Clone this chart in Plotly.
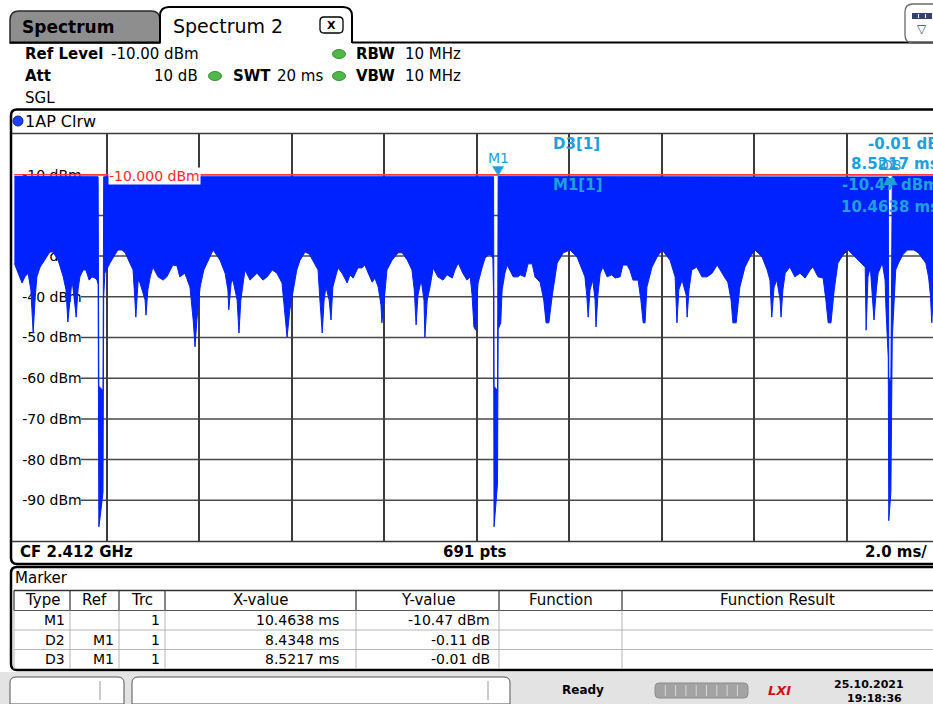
import plotly.graph_objects as go

# ---------------------------------------------------------------- data
# Sweep time (ms) and lower envelope of the zero-span trace (dBm)
t_floor = [0.00, 0.08, 0.17, 0.23, 0.30, 0.36, 0.41, 0.45, 0.49, 0.56, 0.67, 0.77, 0.84, 0.95,
           1.06, 1.12, 1.16, 1.21, 1.25, 1.29, 1.34, 1.38, 1.42, 1.49, 1.55, 1.62, 1.68, 1.75,
           1.79, 1.815, 1.83, 1.86, 1.89, 1.92, 1.935, 1.96, 2.07, 2.14, 2.24, 2.33, 2.40, 2.50,
           2.57, 2.61, 2.63, 2.68, 2.72, 2.83, 2.85, 2.89, 2.94, 3.00, 3.11, 3.22, 3.30, 3.43,
           3.52, 3.58, 3.69, 3.80, 3.87, 3.91, 3.95, 4.02, 4.10, 4.17, 4.30, 4.45, 4.56, 4.62,
           4.64, 4.69, 4.73, 4.82, 4.86, 4.90, 4.99, 5.10, 5.25, 5.38, 5.47, 5.58, 5.68, 5.79,
           5.85, 5.90, 5.96, 6.03, 6.11, 6.18, 6.29, 6.38, 6.46, 6.57, 6.61, 6.66, 6.70, 6.74,
           6.81, 6.85, 6.89, 7.00, 7.09, 7.20, 7.26, 7.33, 7.43, 7.52, 7.58, 7.65, 7.74, 7.80,
           7.87, 7.93, 7.95, 8.00, 8.06, 8.17, 8.30, 8.39, 8.50, 8.60, 8.65, 8.69, 8.73, 8.80,
           8.86, 8.88, 8.93, 8.99, 9.06, 9.16, 9.27, 9.36, 9.47, 9.53, 9.60, 9.70, 9.79, 9.86,
           9.90, 9.94, 9.98, 10.01, 10.03, 10.12, 10.18, 10.25, 10.31, 10.35, 10.365, 10.375,
           10.40, 10.43, 10.45, 10.4638, 10.52, 10.55, 10.61, 10.66, 10.72, 10.79, 10.89, 10.94,
           11.04, 11.11, 11.20, 11.26, 11.37, 11.45, 11.50, 11.56, 11.63, 11.74, 11.87, 12.02,
           12.17, 12.28, 12.34, 12.38, 12.41, 12.45, 12.51, 12.56, 12.58, 12.62, 12.67, 12.73,
           12.82, 12.92, 12.99, 13.10, 13.16, 13.25, 13.31, 13.38, 13.49, 13.55, 13.60, 13.64,
           13.68, 13.79, 13.90, 14.01, 14.18, 14.29, 14.31, 14.33, 14.37, 14.44, 14.53, 14.55,
           14.59, 14.65, 14.76, 14.87, 14.98, 15.09, 15.20, 15.26, 15.37, 15.43, 15.50, 15.54,
           15.61, 15.69, 15.80, 15.91, 16.02, 16.17, 16.28, 16.34, 16.38, 16.43, 16.49, 16.56,
           16.58, 16.62, 16.67, 16.77, 16.88, 16.99, 17.10, 17.21, 17.27, 17.38, 17.49, 17.55,
           17.60, 17.66, 17.73, 17.81, 17.92, 18.03, 18.18, 18.29, 18.40, 18.42, 18.46, 18.51,
           18.55, 18.59, 18.64, 18.68, 18.77, 18.83, 18.85, 18.8986, 18.91, 18.93, 18.955,
           18.9855, 19.06, 19.12, 19.21, 19.31, 19.45, 19.55, 19.71, 19.77, 19.81, 19.84, 19.88,
           19.96, 20.00]
floor_dbm = [-31.7, -34.2, -36.6, -35.1, -34.2, -38.3, -48.9, -40.8, -35.1, -32.7, -30.7, -29.0,
             -29.0, -31.0, -35.1, -38.3, -46.2, -40.8, -35.9, -39.6, -45.0, -38.3, -35.1, -33.4,
             -33.4, -35.9, -35.1, -35.4, -35.9, -37.0, -96.5, -94.0, -90.0, -88.0, -40.0, -34.2,
             -31.7, -30.5, -28.5, -28.5, -29.2, -31.7, -33.4, -40.8, -45.0, -35.9, -36.6, -40.8,
             -44.5, -38.3, -35.1, -32.7, -35.1, -35.9, -35.1, -32.2, -32.4, -35.1, -34.2, -37.6,
             -45.7, -52.3, -45.7, -37.6, -33.4, -31.7, -28.5, -31.0, -34.2, -38.3, -43.2, -36.6,
             -35.9, -40.8, -48.9, -40.8, -33.4, -35.9, -34.2, -35.9, -35.1, -33.4, -34.2, -36.6,
             -43.2, -49.9, -43.2, -38.3, -33.4, -31.0, -29.0, -29.5, -31.0, -33.4, -40.8, -48.9,
             -40.8, -37.6, -40.8, -45.7, -37.6, -32.9, -34.2, -36.6, -34.6, -35.4, -32.9, -32.9,
             -32.2, -34.2, -36.4, -35.4, -37.6, -42.0, -46.4, -40.8, -33.4, -31.0, -29.2, -29.2,
             -31.0, -33.4, -38.3, -46.9, -39.6, -35.9, -40.8, -49.9, -40.8, -37.6, -32.9, -35.1,
             -35.9, -34.6, -35.4, -33.4, -31.7, -34.2, -35.9, -35.1, -39.6, -47.4, -48.2, -40.0,
             -36.6, -32.7, -30.5, -29.7, -29.7, -30.5, -40.0, -96.5, -93.0, -88.0, -86.0, -48.0,
             -46.4, -38.3, -34.2, -32.2, -33.7, -35.1, -35.1, -34.6, -35.1, -31.9, -31.9, -35.1,
             -36.4, -40.8, -46.4, -46.4, -40.0, -31.7, -29.2, -28.5, -30.2, -33.4, -35.1, -39.6,
             -45.0, -38.3, -35.9, -40.8, -47.4, -39.6, -34.2, -32.7, -35.1, -34.6, -35.4, -35.1,
             -32.2, -32.2, -33.4, -35.9, -35.9, -40.8, -46.4, -46.4, -37.6, -32.7, -30.2, -28.5,
             -31.0, -35.1, -40.8, -46.4, -38.3, -35.9, -39.6, -45.0, -38.3, -33.4, -32.7, -35.1,
             -35.1, -34.2, -32.2, -33.4, -35.4, -36.4, -40.8, -46.4, -46.4, -37.6, -32.7, -30.2,
             -28.5, -30.2, -33.4, -35.9, -45.0, -37.6, -35.9, -40.8, -45.0, -38.3, -34.2, -32.7,
             -35.1, -34.2, -35.4, -33.4, -32.7, -35.1, -35.4, -40.8, -46.4, -46.4, -38.3, -31.7,
             -29.7, -28.5, -30.2, -31.7, -32.7, -48.2, -35.1, -32.7, -40.8, -45.7, -38.3, -34.2,
             -31.7, -35.9, -43.2, -55.0, -95.0, -91.0, -88.0, -50.0, -33.4, -31.7, -29.7, -28.5,
             -28.5, -29.2, -31.7, -35.1, -39.6, -46.4, -38.3, -34.2, -33.0]

# Upper envelope (burst level) including the burst gaps
t_peak = [0.0, 1.815, 1.83, 1.92, 1.935, 10.365, 10.375, 10.45, 10.4638,
          18.8986, 18.91, 18.955, 18.9855, 20.0]
peak_dbm = [-10.45, -10.5, -62.0, -63.0, -10.5, -10.5, -62.0, -63.0, -10.47,
            -10.58, -60.0, -61.0, -10.48, -10.45]

# Level axis
level_ticks = [-10, -20, -30, -40, -50, -60, -70, -80, -90]
level_tick_text = ["-10 dBm", "-20 dBm", "-30 dBm", "-40 dBm", "-50 dBm",
                   "-60 dBm", "-70 dBm", "-80 dBm", "-90 dBm"]
display_line_dbm = -10.0

# Marker table
mk_type = ["M1", "D2", "D3"]
mk_ref = ["", "M1", "M1"]
mk_trc = ["1", "1", "1"]
mk_x_ms = [10.4638, 8.4348, 8.5217]
mk_y = [-10.47, -0.11, -0.01]

# ---------------------------------------------------------------- geometry
W, H = 933, 704
FONT = "DejaVu Sans"
BLUE = "#0022ff"
CYAN = "#1ea0dc"
PLOT_L, PLOT_T, PLOT_B = 14.2, 134, 541
MS_PX = 46.25  # pixels per ms

m1_t, m1_v = mk_x_ms[0], mk_y[0]
d2_t, d2_v = m1_t + mk_x_ms[1], m1_v + mk_y[1]
d3_t, d3_v = m1_t + mk_x_ms[2], m1_v + mk_y[2]


def fx(x):
    return x / W


def fy(y):
    return 1 - y / H


def path_px(d):
    out, i = [], 0
    for tok in d.split():
        if tok.isalpha():
            out.append(tok)
            continue
        v = float(tok)
        out.append(f"{fx(v):.5f}" if i % 2 == 0 else f"{fy(v):.5f}")
        i += 1
    return " ".join(out)


shapes, notes = [], []


def line(x0, y0, x1, y1, color="black", width=1.0, layer="above"):
    shapes.append(dict(type="line", xref="paper", yref="paper", x0=fx(x0), y0=fy(y0),
                       x1=fx(x1), y1=fy(y1), line=dict(color=color, width=width), layer=layer))


def rect(x0, y0, x1, y1, fill, color=None, width=0, layer="above"):
    shapes.append(dict(type="rect", xref="paper", yref="paper", x0=fx(x0), y0=fy(y0),
                       x1=fx(x1), y1=fy(y1), fillcolor=fill,
                       line=dict(color=color or fill, width=width), layer=layer))


def path(d, fill=None, color="black", width=1.0, layer="above"):
    s = dict(type="path", xref="paper", yref="paper", path=path_px(d),
             line=dict(color=color, width=width), layer=layer)
    if fill:
        s["fillcolor"] = fill
    shapes.append(s)


def text(x, y, s, size=15, weight="normal", color="black", anchor="left", bg=None,
         family=FONT, style="normal"):
    a = dict(xref="paper", yref="paper", x=fx(x), y=fy(y), text=s, showarrow=False,
             xanchor=anchor, yanchor="middle", borderpad=0,
             font=dict(family=family, size=size, color=color, weight=weight, style=style))
    if bg:
        a["bgcolor"] = bg
    notes.append(a)


# ---------------------------------------------------------------- traces
fig = go.Figure()
fig.add_trace(go.Scatter(x=t_peak, y=peak_dbm, mode="lines",
                         line=dict(color=BLUE, width=1), hoverinfo="skip"))
fig.add_trace(go.Scatter(x=t_floor, y=floor_dbm, mode="lines", fill="tonexty",
                         fillcolor=BLUE, line=dict(color=BLUE, width=1), hoverinfo="skip"))

# horizontal graticule (starts right of the level labels)
for v in level_ticks:
    shapes.append(dict(type="line", xref="paper", yref="y", x0=fx(81), x1=1, y0=v, y1=v,
                       line=dict(color="#4a4a4a", width=1.5), layer="below"))

# display line
shapes.append(dict(type="line", xref="paper", yref="y", x0=fx(PLOT_L), x1=1,
                   y0=display_line_dbm, y1=display_line_dbm,
                   line=dict(color="#ff3b3b", width=1.5), layer="above"))
notes.append(dict(xref="x", yref="y", x=(107.5 - PLOT_L) / MS_PX, y=display_line_dbm,
                  yshift=-1.5, text=f"{display_line_dbm:.3f} dBm", showarrow=False,
                  xanchor="left", yanchor="middle", bgcolor="white", borderpad=0,
                  font=dict(family=FONT, size=14, color="#ff2a2a")))

# marker symbols
shapes.append(dict(type="path", xref="x", yref="y", xsizemode="pixel", ysizemode="pixel",
                   xanchor=m1_t, yanchor=m1_v, path="M -5.5 10 L 5.5 10 L 0 1 Z",
                   fillcolor=CYAN, line=dict(color=CYAN, width=0.5), layer="above"))
for mt, mv in ((d2_t, d2_v), (d3_t, d3_v)):
    shapes.append(dict(type="path", xref="x", yref="y", xsizemode="pixel", ysizemode="pixel",
                       xanchor=mt, yanchor=mv, path="M -5 -8 L 5 -8 L 0 0 Z",
                       fillcolor=CYAN, line=dict(color=CYAN, width=0.5), layer="above"))
for lab, mt, dy in (("M1", m1_t, 19), ("D2", d2_t, 12), ("D3", d3_t, 12)):
    notes.append(dict(xref="x", yref="y", x=mt, y=m1_v, yshift=dy, text=lab, showarrow=False,
                      xanchor="center", yanchor="middle", borderpad=0,
                      font=dict(family=FONT, size=14, color=CYAN)))

# marker readout in the diagram
text(552, 144, "D3[1]", 15, "bold", CYAN)
text(940, 144, f"{mk_y[2]:.2f} dB", 15, "bold", CYAN, "right")
text(940, 164, f"{mk_x_ms[2]:.4f} ms", 15, "bold", CYAN, "right")
text(552, 185, "M1[1]", 15, "bold", CYAN)
text(940, 185, f"{mk_y[0]:.2f} dBm", 15, "bold", CYAN, "right")
text(940, 207, f"{mk_x_ms[0]:.4f} ms", 15, "bold", CYAN, "right")

# ---------------------------------------------------------------- window chrome
# tabs
path("M 10 43 L 10 20 Q 10 11 19 11 L 151 11 Q 160 11 160 20 L 160 43 Z",
     fill="#8e8e8e", color="#2a2a2a", width=1.5)
path("M 160 43 L 160 16 Q 160 7 169 7 L 343 7 Q 352 7 352 16 L 352 43",
     fill="white", color="black", width=2)
line(10, 42.5, 160, 42.5, "black", 2)
line(352, 42.5, 933, 42.5, "black", 2)
text(21, 27, "Spectrum", 17, "bold")
text(172, 26, "Spectrum 2", 19)
path("M 324 17 L 339 17 Q 343 17 343 21 L 343 29 Q 343 33 339 33 L 324 33 "
     "Q 320 33 320 29 L 320 21 Q 320 17 324 17 Z", color="black", width=1.3)
text(331.5, 25, "X", 11, "bold", anchor="center")
path("M 936 4 L 913 4 Q 905 4 905 12 L 905 35 Q 905 43 913 43 L 936 43",
     color="#6a6a6a", width=1.3)
rect(912, 13, 932, 19, "#34416e")
line(918.5, 14, 918.5, 18, "white", 1.2)
line(925.5, 14, 925.5, 18, "white", 1.2)
text(922, 29, "▽", 12, color="#34416e", anchor="center")

# settings header
text(24, 54, "Ref Level", 15, "bold")
text(110, 54, "-10.00 dBm", 15)
text(24, 76, "Att", 15, "bold")
text(199, 76, "10 dB", 15, anchor="right")
text(232, 76, "SWT", 15, "bold")
text(276, 76, "20 ms", 15)
text(355, 54, "RBW", 15, "bold")
text(404, 54, "10 MHz", 15)
text(355, 76, "VBW", 15, "bold")
text(404, 76, "10 MHz", 15)
text(24, 98, "SGL", 15)
for cx, cy in ((215, 76), (339, 54), (339, 76)):
    shapes.append(dict(type="circle", xref="paper", yref="paper", x0=fx(cx - 6.5),
                       x1=fx(cx + 6.5), y0=fy(cy - 4.5), y1=fy(cy + 4.5),
                       fillcolor="#4fb848", line=dict(color="#3b8f34", width=1), layer="above"))

# diagram frame
path("M 933 109.5 L 17 109.5 Q 11 109.5 11 115.5 L 11 558 Q 11 564 17 564 L 933 564",
     color="black", width=2.5)
line(12, 133.5, 933, 133.5, "#3a3a3a", 1.5)
line(12, 541.5, 933, 541.5, "#3a3a3a", 1.5)
shapes.append(dict(type="circle", xref="paper", yref="paper", x0=fx(13), x1=fx(23),
                   y0=fy(116), y1=fy(126), fillcolor="#1f3dff",
                   line=dict(color="#10208a", width=1), layer="above"))
text(24, 121, "1AP Clrw", 16)
text(19, 552, "CF 2.412 GHz", 15, "bold")
text(474, 552, "691 pts", 15, "bold", anchor="center")
text(928, 552, "2.0 ms/", 15, "bold", anchor="right")

# marker table
path("M 933 567 L 17 567 Q 11 567 11 573 L 11 664 Q 11 670 17 670 L 933 670",
     color="black", width=2.5)
text(14, 578, "Marker", 15)
cols = [14, 70, 119, 165, 356, 499, 622, 933]
line(14, 590.5, 933, 590.5, "#333333", 1.5)
line(14, 610.5, 933, 610.5, "#555555", 1.2)
for yy in (630, 649.5):
    line(14, yy, 933, yy, "#b5b5b5", 1)
for cx in cols[:-1]:
    line(cx, 590.5, cx, 610.5, "#333333", 1.2)
    line(cx, 610.5, cx, 669, "#b5b5b5", 1)
heads = ["Type", "Ref", "Trc", "X-value", "Y-value", "Function", "Function Result"]
for i, hname in enumerate(heads):
    text((cols[i] + cols[i + 1]) / 2, 600, hname, 15, anchor="center")
for r in range(3):
    yy = 620 + r * 19.5
    unit = "dBm" if mk_type[r].startswith("M") else "dB"
    text(cols[1] - 4, yy, mk_type[r], 14, anchor="right")
    text(cols[2] - 4, yy, mk_ref[r], 14, anchor="right")
    text(cols[3] - 4, yy, mk_trc[r], 14, anchor="right")
    text(cols[4] - 16, yy, f"{mk_x_ms[r]:.4f} ms", 14, anchor="right")
    text(cols[5] - 8, yy, f"{mk_y[r]:.2f} {unit}", 14, anchor="right")

# status bar
rect(0, 672, 933, 704, "#e3e3e3", layer="below")
path("M 16 677 L 118 677 Q 124 677 124 683 L 124 704 L 10 704 L 10 683 Q 10 677 16 677 Z",
     fill="white", color="#555555", width=1)
path("M 138 677 L 504 677 Q 510 677 510 683 L 510 704 L 132 704 L 132 683 Q 132 677 138 677 Z",
     fill="white", color="#555555", width=1)
line(100, 681, 100, 700, "#999999", 1)
line(488, 681, 488, 700, "#999999", 1)
text(583, 690, "Ready", 12, "bold", anchor="center")
path("M 659 683 L 744 683 Q 748 683 748 687 L 748 694 Q 748 698 744 698 L 659 698 "
     "Q 655 698 655 694 L 655 687 Q 655 683 659 683 Z", fill="#a3a3a3", color="#8c8c8c", width=1)
for k in range(1, 9):
    xx = 655 + k * 10.3
    line(xx, 685, xx, 696, "#d8d8d8", 1)
text(779, 690, "LXI", 13, "bold", "#d0101a", anchor="center", style="italic")
text(869, 684, "25.10.2021", 11, "bold", anchor="center")
text(874, 698, "19:18:36", 11, "bold", anchor="center")

# ---------------------------------------------------------------- layout
fig.update_layout(
    width=W, height=H, margin=dict(l=0, r=0, t=0, b=0),
    paper_bgcolor="white", plot_bgcolor="white", showlegend=False,
    xaxis=dict(domain=[fx(PLOT_L), 1], range=[0, (W - PLOT_L) / MS_PX],
               tick0=0, dtick=2, showgrid=True, gridcolor="#3c3c3c", gridwidth=1.5,
               showticklabels=False, ticks="", zeroline=False, showline=False,
               fixedrange=True),
    yaxis=dict(domain=[fy(PLOT_B), fy(PLOT_T)], range=[-100, 0],
               tickvals=level_ticks, ticktext=level_tick_text,
               ticklabelposition="inside", ticklabelstandoff=5, ticks="",
               layer="below traces", showgrid=False, zeroline=False, showline=False,
               tickfont=dict(family=FONT, size=14, color="black"), fixedrange=True),
    shapes=shapes, annotations=notes,
)

fig.write_html("out.html")
